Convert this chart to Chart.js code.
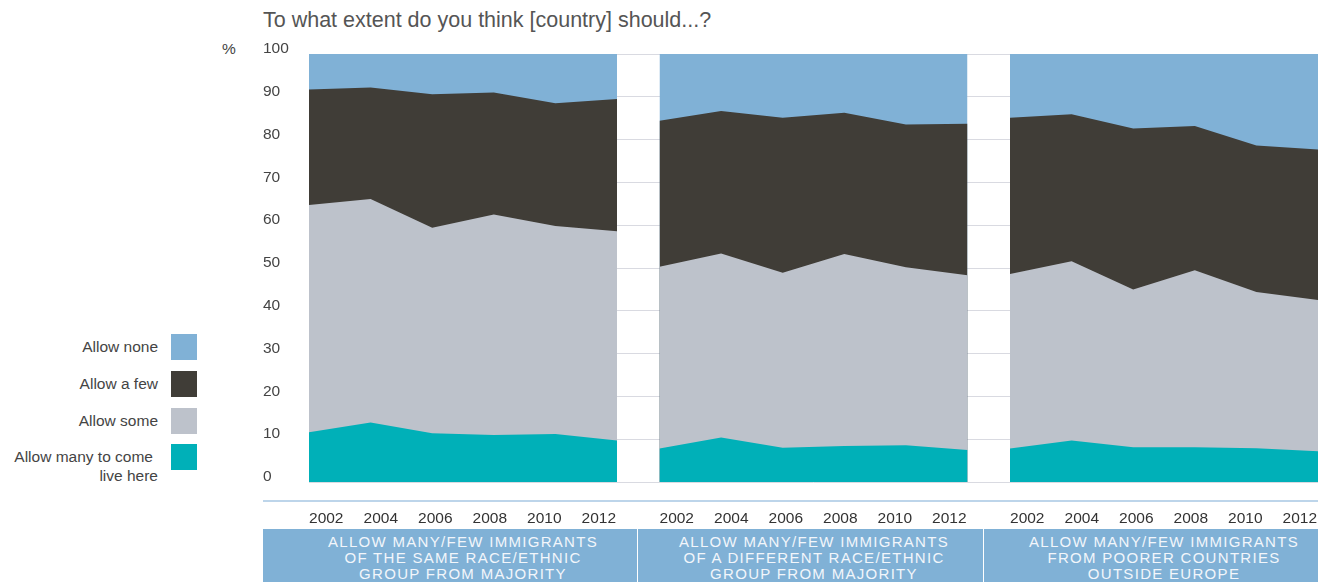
<!DOCTYPE html>
<html>
<head>
<meta charset="utf-8">
<script src="https://cdn.jsdelivr.net/npm/chart.js@4.4.1/dist/chart.umd.min.js"></script>
<style>
  body { margin:0; width:1333px; height:582px; position:relative; overflow:hidden; background:#fff;
         font-family:"Liberation Sans", Arial, sans-serif; color:#444; }
  #title { position:absolute; left:263px; top:8px; font-size:21.5px; line-height:24px; color:#555; white-space:nowrap; }
  #pct { position:absolute; left:222px; top:40px; font-size:15.5px; line-height:18px; color:#444; }
  #wrap { position:absolute; left:263px; top:30px; width:1070px; height:498px; }
  #legend .lab { position:absolute; right:1175px; font-size:15.5px; line-height:19px; text-align:right; white-space:nowrap; color:#444; }
  #legend .box { position:absolute; left:171px; width:26px; height:26px; }
  #rule { position:absolute; left:263px; top:500px; width:1055px; height:2px; background:#bdd5ea; }
  .band { position:absolute; top:529px; height:60px; background:#80b1d6; }
  .btxt { position:absolute; top:534px; width:340px; text-align:center; font-size:15px; line-height:16px;
          letter-spacing:1.3px; color:#f2f6fb; white-space:nowrap; }
</style>
</head>
<body>
<div id="title">To what extent do you think [country] should...?</div>
<div id="pct">%</div>
<div id="legend"></div>
<div id="wrap"><canvas id="c"></canvas></div>
<div id="rule"></div>
<div id="bands"></div>
<script>
const years = ['2002', '2004', '2006', '2008', '2010', '2012'];
const yTicks = [0, 10, 20, 30, 40, 50, 60, 70, 80, 90, 100];
const panelTitles = [
  ['ALLOW MANY/FEW IMMIGRANTS', 'OF THE SAME RACE/ETHNIC', 'GROUP FROM MAJORITY'],
  ['ALLOW MANY/FEW IMMIGRANTS', 'OF A DIFFERENT RACE/ETHNIC', 'GROUP FROM MAJORITY'],
  ['ALLOW MANY/FEW IMMIGRANTS', 'FROM POORER COUNTRIES', 'OUTSIDE EUROPE']
];
const seriesNames = ['Allow many to come live here', 'Allow some', 'Allow a few', 'Allow none'];
const colors = ['#00b0b8', '#bdc2cb', '#403d37', '#80b1d6'];

// one row per panel, % of respondents
const allowMany = [
  [11.6, 13.9, 11.4, 11.0, 11.2, 9.7],
  [7.8, 10.4, 8.0, 8.4, 8.6, 7.5],
  [7.8, 9.7, 8.1, 8.1, 7.9, 7.2]
];
const allowSome = [
  [53.1, 52.2, 48.0, 51.5, 48.6, 48.9],
  [42.5, 43.0, 40.9, 44.9, 41.6, 40.8],
  [40.8, 41.9, 36.9, 41.4, 36.5, 35.3]
];
const allowFew = [
  [27.0, 26.1, 31.2, 28.5, 28.7, 30.9],
  [34.1, 33.3, 36.2, 33.0, 33.3, 35.4],
  [36.5, 34.3, 37.6, 33.7, 34.2, 35.2]
];
const allowNone = [
  [8.3, 7.8, 9.4, 9.0, 11.5, 10.5],
  [15.6, 13.3, 14.9, 13.7, 16.5, 16.3],
  [14.9, 14.1, 17.4, 16.8, 21.4, 22.3]
];
const series = [allowMany, allowSome, allowFew, allowNone];

const GAP = 0.69;                 // blank space between panels, in year steps
const panelStart = (p) => p * (years.length - 1 + GAP);
const xMax = panelStart(2) + years.length - 1;

const datasets = [];
panelTitles.forEach((t, p) => {
  series.forEach((s, k) => {
    datasets.push({
      label: seriesNames[k],
      data: s[p].map((v, i) => ({ x: panelStart(p) + i, y: v })),
      backgroundColor: colors[k],
      borderWidth: 0,
      pointRadius: 0,
      tension: 0,
      fill: 'origin'
    });
  });
});

// year labels spread so the first and last sit flush with the panel edges
const tickPos = [];
panelTitles.forEach((t, p) => years.forEach((y, i) => tickPos.push(panelStart(p) + 0.28 + i * 0.885)));

Chart.defaults.font.family = '"Liberation Sans", Arial, sans-serif';
Chart.defaults.color = '#444';

new Chart(document.getElementById('c'), {
  type: 'line',
  data: { datasets },
  options: {
    responsive: true,
    maintainAspectRatio: false,
    animation: false,
    layout: { padding: { top: 24, right: 15, left: 0, bottom: 0 } },
    plugins: { legend: { display: false }, tooltip: { enabled: false } },
    scales: {
      x: {
        type: 'linear', min: 0, max: xMax,
        grid: { display: false, drawTicks: false },
        border: { display: false },
        afterBuildTicks: (s) => { s.ticks = tickPos.map(v => ({ value: v })); },
        afterFit: (s) => { s.height = 46; s.paddingLeft = 0; s.paddingRight = 0; },
        ticks: {
          autoSkip: false, maxRotation: 0, padding: 27,
          font: { size: 15.5 }, color: '#333',
          callback: (v, i) => years[i % years.length]
        }
      },
      y: {
        stacked: true, min: 0, max: 100,
        afterBuildTicks: (s) => { s.ticks = yTicks.map(v => ({ value: v })); },
        afterFit: (s) => { s.width = 46; s.paddingTop = 0; s.paddingBottom = 0; },
        grid: { color: '#d9dae1', lineWidth: 1, drawTicks: false },
        border: { display: false },
        ticks: { crossAlign: 'far', labelOffset: -5, font: { size: 15.5 }, color: '#444' }
      }
    }
  }
});

// legend, top entry first
const legend = document.getElementById('legend');
const boxTops = [444, 408, 371, 334];
seriesNames.forEach((name, k) => {
  const box = document.createElement('div');
  box.className = 'box';
  box.style.top = boxTops[k] + 'px';
  box.style.background = colors[k];
  legend.appendChild(box);
  const lab = document.createElement('div');
  lab.className = 'lab';
  lab.style.top = (boxTops[k] + 3) + 'px';
  if (k === 0) {
    lab.innerHTML = '<span style="padding-right:5px">Allow many to come</span><br>live here';
  } else {
    lab.textContent = name;
  }
  legend.appendChild(lab);
});

// category bands under the year labels
const bands = document.getElementById('bands');
const bandEdges = [[263, 637], [638, 983], [984, 1318]];
const panelCenters = [463, 814, 1164];
panelTitles.forEach((lines, p) => {
  const b = document.createElement('div');
  b.className = 'band';
  b.style.left = bandEdges[p][0] + 'px';
  b.style.width = (bandEdges[p][1] - bandEdges[p][0]) + 'px';
  bands.appendChild(b);
  const t = document.createElement('div');
  t.className = 'btxt';
  t.style.left = (panelCenters[p] - 170) + 'px';
  t.innerHTML = lines.join('<br>');
  bands.appendChild(t);
});
</script>
</body>
</html>
